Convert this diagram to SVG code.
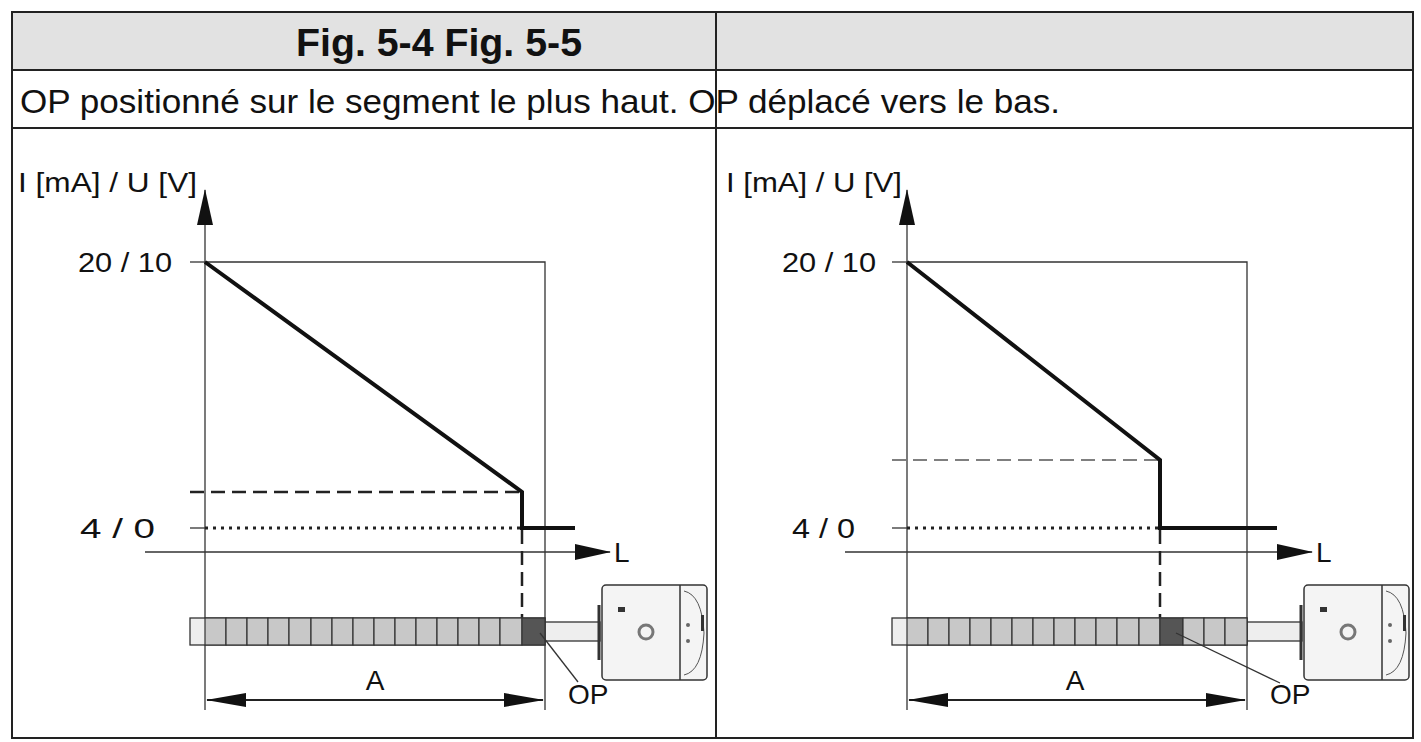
<svg xmlns="http://www.w3.org/2000/svg" width="1421" height="742" viewBox="0 0 1421 742">
<defs>
<style>
.t{font-family:"Liberation Sans",Arial,sans-serif;fill:#111}
.thin{stroke:#333;stroke-width:1.3;fill:none}
.thick{stroke:#111;stroke-width:4;fill:none}
.cell{fill:#c8c8c8;stroke:#333;stroke-width:1.2}
</style>
<marker id="up" markerWidth="36" markerHeight="16" refX="35" refY="8" orient="auto" markerUnits="userSpaceOnUse"><path d="M0,0 L36,8 L0,16z" fill="#111"/></marker>
<marker id="big" markerWidth="40" markerHeight="14" refX="39" refY="7" orient="auto-start-reverse" markerUnits="userSpaceOnUse"><path d="M0,0 L40,7 L0,14z" fill="#111"/></marker>
<g id="dev">
<rect x="0" y="0" width="105" height="95" rx="4" fill="#f4f4f4" stroke="#333" stroke-width="1.5"/>
<line x1="78" y1="0" x2="78" y2="95" stroke="#333" stroke-width="1.5"/>
<path d="M82,6 Q100,10 102,48 Q100,86 82,90" fill="none" stroke="#555"/>
<circle cx="44" cy="47" r="7" fill="none" stroke="#777" stroke-width="3"/>
<rect x="16" y="22" width="7" height="5" fill="#333"/>
<rect x="99" y="30" width="3" height="16" fill="#333"/>
<circle cx="86" cy="40" r="2" fill="#666"/><circle cx="86" cy="56" r="2" fill="#666"/>
<line x1="-3" y1="20" x2="-3" y2="75" stroke="#333" stroke-width="3"/>
</g>
</defs>
<rect x="12" y="12" width="1401" height="726" fill="#fff" stroke="#222" stroke-width="2"/>
<rect x="12" y="12" width="1401" height="58" fill="#e2e2e2" stroke="#222" stroke-width="2"/>
<line x1="12" y1="128" x2="1413" y2="128" stroke="#222" stroke-width="2"/>
<line x1="716" y1="12" x2="716" y2="738" stroke="#222" stroke-width="2"/>
<text class="t" x="296" y="56" font-size="38" font-weight="bold" textLength="286" lengthAdjust="spacingAndGlyphs">Fig. 5-4 Fig. 5-5</text>
<text class="t" x="20" y="113" font-size="34" textLength="1040" lengthAdjust="spacingAndGlyphs">OP positionné sur le segment le plus haut. OP déplacé vers le bas.</text>

<g id="left">
<text class="t" x="18" y="192" font-size="28" textLength="179" lengthAdjust="spacingAndGlyphs">I [mA] / U [V]</text>
<text class="t" x="78" y="272" font-size="28" textLength="94" lengthAdjust="spacingAndGlyphs">20 / 10</text>
<text class="t" x="80" y="538" font-size="28" textLength="75" lengthAdjust="spacingAndGlyphs">4 / 0</text>
<line x1="205" y1="710" x2="205" y2="190" class="thin" marker-end="url(#up)"/>
<line x1="145" y1="552" x2="610" y2="552" class="thin" marker-end="url(#up)"/>
<text class="t" x="614" y="562" font-size="28">L</text>
<polyline points="205,262 545,262 545,710" class="thin"/>
<line x1="190" y1="262" x2="205" y2="262" class="thin"/>
<line x1="190" y1="528" x2="205" y2="528" class="thin"/>
<line x1="190" y1="492" x2="522" y2="492" stroke="#222" stroke-width="2.5" stroke-dasharray="14,7"/>
<line x1="205" y1="528" x2="522" y2="528" stroke="#222" stroke-width="3" stroke-dasharray="3,5"/>
<polyline points="205,262 522,492 522,528 575,528" class="thick"/>
<line x1="522" y1="530" x2="522" y2="618" stroke="#222" stroke-width="2.5" stroke-dasharray="14,7"/>
<rect x="545" y="622" width="55" height="19" fill="#eee" stroke="#333" stroke-width="1.3"/>
<rect x="190" y="618" width="355" height="27" fill="#eee" stroke="#333" stroke-width="1.3"/>
<g>
<rect class="cell" x="205" y="618" width="21" height="27"/><rect class="cell" x="226" y="618" width="21" height="27"/><rect class="cell" x="247" y="618" width="21" height="27"/><rect class="cell" x="268" y="618" width="21" height="27"/><rect class="cell" x="289" y="618" width="22" height="27"/><rect class="cell" x="311" y="618" width="21" height="27"/><rect class="cell" x="332" y="618" width="21" height="27"/><rect class="cell" x="353" y="618" width="21" height="27"/><rect class="cell" x="374" y="618" width="21" height="27"/><rect class="cell" x="395" y="618" width="21" height="27"/><rect class="cell" x="416" y="618" width="21" height="27"/><rect class="cell" x="437" y="618" width="21" height="27"/><rect class="cell" x="458" y="618" width="21" height="27"/><rect class="cell" x="479" y="618" width="21" height="27"/><rect class="cell" x="500" y="618" width="22" height="27"/><rect x="522" y="618" width="23" height="27" fill="#555" stroke="#333" stroke-width="1.2"/>
</g>
<use href="#dev" x="602" y="585"/>
<line x1="540" y1="633" x2="578" y2="682" class="thin"/>
<text class="t" x="568" y="704" font-size="28">OP</text>
<text class="t" x="375" y="690" font-size="28" text-anchor="middle">A</text>
<line x1="207" y1="700" x2="543" y2="700" stroke="#222" stroke-width="2" marker-start="url(#big)" marker-end="url(#big)"/>
</g>

<g id="right">
<text class="t" x="726" y="192" font-size="28" textLength="176" lengthAdjust="spacingAndGlyphs">I [mA] / U [V]</text>
<text class="t" x="782" y="272" font-size="28" textLength="94" lengthAdjust="spacingAndGlyphs">20 / 10</text>
<text class="t" x="792" y="538" font-size="28" textLength="63" lengthAdjust="spacingAndGlyphs">4 / 0</text>
<line x1="907" y1="710" x2="907" y2="190" class="thin" marker-end="url(#up)"/>
<line x1="845" y1="552" x2="1312" y2="552" class="thin" marker-end="url(#up)"/>
<text class="t" x="1316" y="562" font-size="28">L</text>
<polyline points="907,262 1247,262 1247,710" class="thin"/>
<line x1="892" y1="262" x2="907" y2="262" class="thin"/>
<line x1="892" y1="528" x2="907" y2="528" class="thin"/>
<line x1="892" y1="460" x2="1160" y2="460" stroke="#555" stroke-width="1.5" stroke-dasharray="14,7"/>
<line x1="907" y1="528" x2="1160" y2="528" stroke="#222" stroke-width="3" stroke-dasharray="3,5"/>
<polyline points="907,262 1160,460 1160,528 1277,528" class="thick"/>
<line x1="1160" y1="530" x2="1160" y2="618" stroke="#222" stroke-width="2.5" stroke-dasharray="14,7"/>
<rect x="1247" y="622" width="55" height="19" fill="#eee" stroke="#333" stroke-width="1.3"/>
<rect x="892" y="618" width="355" height="27" fill="#eee" stroke="#333" stroke-width="1.3"/>
<g>
<rect class="cell" x="907" y="618" width="21" height="27"/><rect class="cell" x="928" y="618" width="21" height="27"/><rect class="cell" x="949" y="618" width="21" height="27"/><rect class="cell" x="970" y="618" width="21" height="27"/><rect class="cell" x="991" y="618" width="21" height="27"/><rect class="cell" x="1012" y="618" width="21" height="27"/><rect class="cell" x="1033" y="618" width="21" height="27"/><rect class="cell" x="1054" y="618" width="21" height="27"/><rect class="cell" x="1075" y="618" width="21" height="27"/><rect class="cell" x="1096" y="618" width="21" height="27"/><rect class="cell" x="1117" y="618" width="22" height="27"/><rect class="cell" x="1139" y="618" width="21" height="27"/><rect x="1160" y="618" width="23" height="27" fill="#555" stroke="#333" stroke-width="1.2"/><rect class="cell" x="1183" y="618" width="21" height="27"/><rect class="cell" x="1204" y="618" width="21" height="27"/><rect class="cell" x="1225" y="618" width="22" height="27"/>
</g>
<use href="#dev" x="1304" y="585"/>
<line x1="1176" y1="633" x2="1280" y2="683" class="thin"/>
<text class="t" x="1270" y="704" font-size="28">OP</text>
<text class="t" x="1075" y="690" font-size="28" text-anchor="middle">A</text>
<line x1="909" y1="700" x2="1245" y2="700" stroke="#222" stroke-width="2" marker-start="url(#big)" marker-end="url(#big)"/>
</g>
</svg>
